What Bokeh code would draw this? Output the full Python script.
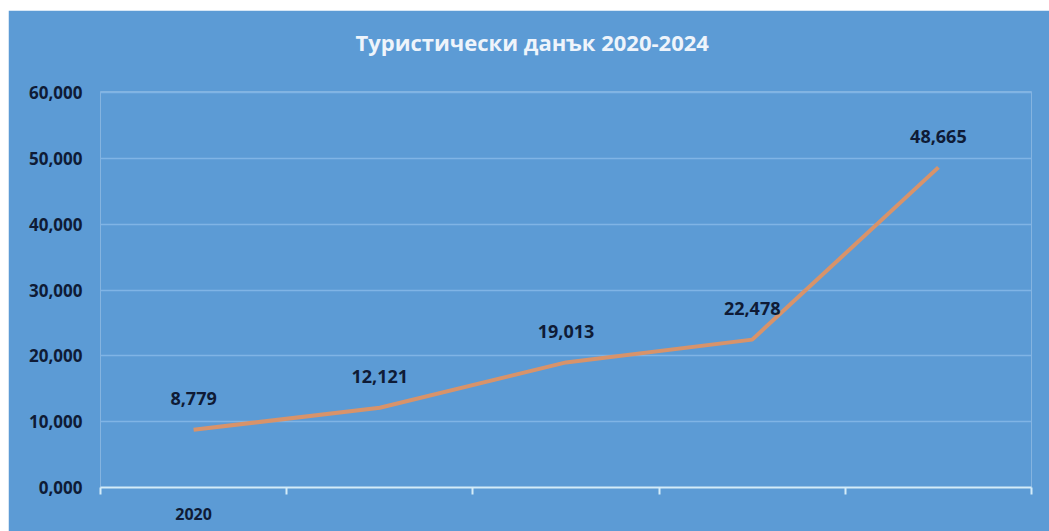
from bokeh.plotting import figure
from bokeh.models import ColumnDataSource, LabelSet, FixedTicker, Range1d, Title
from bokeh.core.properties import value
from bokeh.embed import file_html
from bokeh.resources import INLINE

# ---- data ----
years = [2020, 2021, 2022, 2023, 2024]
values = [8779, 12121, 19013, 22478, 48665]
value_labels = ["8,779", "12,121", "19,013", "22,478", "48,665"]
shown_year_labels = {2020: "2020"}
y_ticks = [0, 10000, 20000, 30000, 40000, 50000, 60000]
y_tick_labels = ["0,000", "10,000", "20,000", "30,000", "40,000", "50,000", "60,000"]
title_text = "Туристически данък 2020-2024"

# ---- style ----
BG = "#5c9bd5"
GRID = "#80b4e5"
AXIS = "#d4ecf8"
LINE = "#d8936a"
DARK = "#0f1b36"
FONT = "Open Sans"

p = figure(width=1041, height=521, output_backend="svg", toolbar_location=None,
           x_range=Range1d(years[0] - 0.5, years[-1] + 0.5),
           y_range=Range1d(0, 60200),
           background_fill_color=BG, border_fill_color=BG, outline_line_color=None,
           min_border_left=92, min_border_right=18, min_border_top=81, min_border_bottom=44)
p.margin = (10, 0, 0, 8)
p.title.text = ""

# spacer between the title and the plot area (first item = closest to the frame)
p.add_layout(Title(text=" ", standoff=18, text_font_size="1px",
                   text_color=BG), "above")
main_title = Title(text=title_text, align="left", offset=255,
                   text_font=FONT, text_font_size="22px", text_font_style="bold",
                   text_color="#eef4fb", standoff=28)
p.add_layout(main_title, "above")

# x axis: boundary ticks (minor) and centered year labels (major)
p.xaxis.ticker = FixedTicker(ticks=years,
                             minor_ticks=[years[0] - 0.5 + i for i in range(len(years) + 1)])
p.xaxis.major_label_overrides = {y: shown_year_labels.get(y, "") for y in years}
p.xaxis.major_tick_out = 0
p.xaxis.major_tick_in = 0
p.xaxis.minor_tick_out = 7
p.xaxis.minor_tick_in = 0
p.xaxis.minor_tick_line_color = AXIS
p.xaxis.minor_tick_line_width = 2
p.xaxis.axis_line_color = AXIS
p.xaxis.axis_line_width = 2
p.xaxis.major_label_standoff = 13
p.xaxis.major_label_text_font = FONT
p.xaxis.major_label_text_font_style = "bold"
p.xaxis.major_label_text_font_size = "16px"
p.xaxis.major_label_text_color = DARK
p.xgrid.grid_line_color = None

# y axis
p.yaxis.ticker = FixedTicker(ticks=y_ticks)
p.yaxis.major_label_overrides = dict(zip(y_ticks, y_tick_labels))
p.yaxis.axis_line_color = None
p.yaxis.major_tick_line_color = None
p.yaxis.minor_tick_line_color = None
p.yaxis.major_label_standoff = 12
p.yaxis.major_label_text_font = FONT
p.yaxis.major_label_text_font_style = "bold"
p.yaxis.major_label_text_font_size = "17px"
p.yaxis.major_label_text_color = DARK
p.ygrid.ticker = FixedTicker(ticks=y_ticks)
p.ygrid.grid_line_color = GRID
p.ygrid.grid_line_width = 1.5

src = ColumnDataSource(dict(x=years, y=values, label=value_labels))
p.line("x", "y", source=src, line_color=LINE, line_width=4)

labels = LabelSet(x="x", y="y", text="label", source=src, y_offset=31,
                  text_align="center", text_baseline="middle",
                  text_font=value(FONT), text_font_style="bold", text_font_size="18px",
                  text_color=DARK)
p.add_layout(labels)

open("out.html", "w").write(file_html(p, INLINE))
